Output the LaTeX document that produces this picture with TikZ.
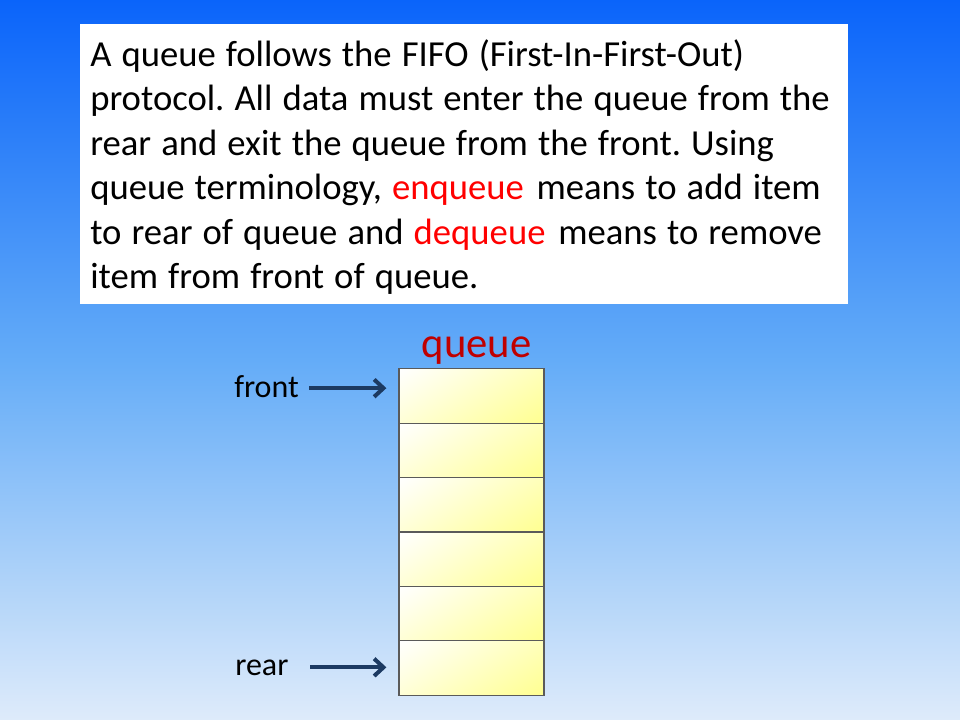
\documentclass[tikz,border=0pt]{standalone}
\usepackage{fontspec}
\setmainfont{Carlito}
\usepackage{tikz}
\usetikzlibrary{arrows.meta,positioning}
\definecolor{skytop}{RGB}{10,100,250}
\definecolor{skymid}{RGB}{100,172,248}
\definecolor{skybot}{RGB}{222,235,250}
\definecolor{ptrblue}{RGB}{28,58,98}
\definecolor{cellline}{RGB}{90,90,90}
\definecolor{cellyel}{RGB}{255,255,145}
\definecolor{titlered}{RGB}{192,0,0}
\pgfdeclareverticalshading{cellshade}{100bp}{color(0bp)=(cellyel); color(29bp)=(cellyel); color(71bp)=(white); color(100bp)=(white)}
\frenchspacing
\newcommand\introfont{\fontsize{27.5}{33.4}\selectfont\spaceskip=0.275em plus 0.1em\relax}

\begin{document}
\begin{tikzpicture}[x=0.75pt,y=-0.75pt,
	cell/.style={draw=cellline,line width=0.9pt,minimum width=108.75pt,minimum height=40.8pt,inner sep=0pt,
		path picture={\shade[shading=cellshade,shading angle=32]
			([shift={(-72.5,-72.5)}]path picture bounding box.center) rectangle ([shift={(72.5,72.5)}]path picture bounding box.center);}},
	ptr/.style={draw=ptrblue,line width=3pt,-{Straight Barb[length=7pt,width=13pt]}},
	label/.style={font=\fontsize{24}{28}\selectfont,inner sep=0pt}]
	%background
	\useasboundingbox (0,0) rectangle (960,720);
	\shade[top color=skytop,bottom color=skybot,middle color=skymid] (0,0) rectangle (960,720);
	%text box
	\fill[white] (80,24) rectangle (848,304);
	\node[anchor=north west,inner sep=0pt,align=left,font=\introfont] (intro) at (90,39)
		{A queue follows the FIFO (First-In-First-Out)\\
		protocol. All data must enter the queue from the\\
		rear and exit the queue from the front. Using\\
		queue terminology, \textcolor{red}{enqueue}\hspace{2pt} means to add item\\
		to rear of queue and \textcolor{red}{dequeue}\hspace{2pt} means to remove\\
		item from front of queue.};
	
	%queue cells
	\foreach \i in {1,...,6}
		\node[cell] (c\i) at (471.5,{368.7+54.4*(\i-0.5)}) {};
	\node[anchor=base,inner sep=0pt,text=titlered,font=\fontsize{32}{38}\selectfont] (title) at (476.5,357) {queue};
	
	%pointers
	\node[label,anchor=base west] (front) at (234,397) {front};
	\node[label,anchor=base west] (rear) at (235,675) {rear};
	\draw[ptr] ([xshift=7.5pt,yshift=-1.5pt]front.east) -- ([xshift=-9pt,yshift=-1.5pt]front.east -| c1.west);
	\draw[ptr] ([xshift=16pt]rear.east) -- ([xshift=-9pt]rear.east -| c6.west);
\end{tikzpicture}
\end{document}
